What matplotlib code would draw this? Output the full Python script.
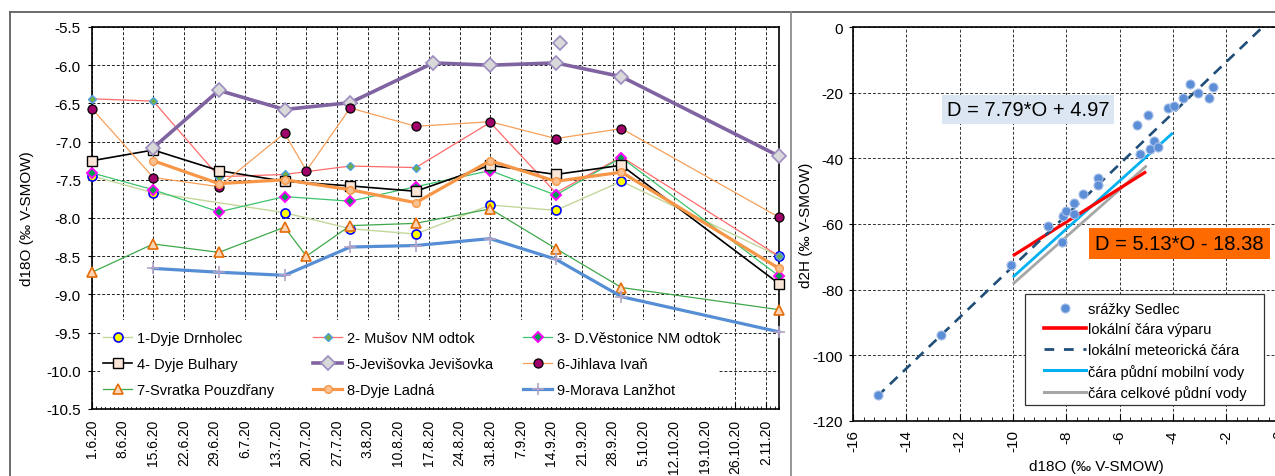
import numpy as np
import pandas as pd
import matplotlib
matplotlib.use('Agg')
import matplotlib.pyplot as plt
import matplotlib.dates as mdates
from matplotlib.lines import Line2D
from matplotlib.legend import Legend
from matplotlib.patches import Rectangle
from matplotlib.ticker import FixedLocator, FuncFormatter, MultipleLocator, FormatStrFormatter

plt.rcParams['font.family'] = ['Liberation Sans', 'DejaVu Sans']
plt.rcParams['axes.unicode_minus'] = False

# --- data: d18O v řekách (datum odběru) ---
dny = ['2020-06-01', '2020-06-15', '2020-06-30', '2020-07-15', '2020-07-20', '2020-07-30',
       '2020-08-14', '2020-08-18', '2020-08-31', '2020-09-15', '2020-09-30', '2020-11-05']
nan = np.nan
drnholec = [-7.45, -7.67, nan, -7.93, nan, -8.14, -8.21, nan, -7.83, -7.90, -7.52, -8.50]
musov = [-6.44, -6.47, -7.46, -7.43, nan, -7.32, -7.34, nan, -6.75, -7.67, -7.20, -8.50]
vestonice = [-7.41, -7.63, -7.92, -7.72, nan, -7.78, -7.59, nan, -7.38, -7.70, -7.21, -8.76]
bulhary = [-7.25, -7.11, -7.38, -7.52, nan, -7.58, -7.65, nan, -7.31, -7.43, -7.31, -8.86]
jevisovka = [nan, -7.08, -6.33, -6.58, nan, -6.49, nan, -5.97, -6.00, -5.97, -6.15, -7.19]
jihlava = [-6.57, -7.47, -7.59, -6.89, -7.38, -6.56, -6.80, nan, -6.74, -6.96, -6.83, -7.99]
svratka = [-8.71, -8.34, -8.45, -8.12, -8.50, -8.10, -8.07, nan, -7.88, -8.40, -8.91, -9.20]
ladna = [nan, -7.25, -7.55, -7.50, nan, -7.63, -7.80, nan, -7.25, -7.52, -7.40, -8.66]
morava = [nan, -8.66, -8.71, -8.75, nan, -8.38, -8.36, nan, -8.27, -8.54, -9.03, -9.49]
jevisovka_navic_den = ['2020-09-16']
jevisovka_navic = [-5.71]

# --- data: srážky Sedlec (d18O, d2H) ---
srazky_O = [-15.05, -12.71, -10.07, -8.67, -8.14, -8.13, -8.01, -7.71, -7.70, -7.38, -6.80, -6.80,
            -5.33, -5.23, -4.93, -4.86, -4.69, -4.57, -4.17, -3.96, -3.63, -3.36, -3.04, -2.64, -2.48]
srazky_H = [-112.3, -94.0, -72.5, -60.5, -65.5, -57.6, -56.1, -53.5, -57.1, -50.9, -46.0, -48.0,
            -29.9, -38.7, -26.8, -37.1, -34.8, -36.6, -24.7, -23.9, -21.7, -17.3, -19.9, -21.7, -18.2]

# přímky: (sklon, posun, od O, do O)
lmwl = (7.79, 4.97, -15.1, 0.0)
vypar = (5.13, -18.38, -10.0, -5.0)
mobilni = (7.33, -2.9, -10.0, -4.0)
celkova = (7.19, -6.4, -10.0, -4.98)

W, H = 1275, 477
fig = plt.figure(figsize=(W / 100, H / 100), dpi=100)


def fx(px):
    return px / W


def fy(py):
    return 1 - py / H


# ================= levý graf =================
ax = fig.add_axes([fx(92), fy(410), fx(779) - fx(92), fy(28) - fy(410)])
ax.set_axisbelow(True)
t = pd.to_datetime(dny)

serie = [
    ('1-Dyje Drnholec', drnholec, dict(color='#C4D79B', lw=1.0, marker='o', ms=6.5, mfc='#FFFF00', mec='#0000FF', mew=1.2)),
    ('2- Mušov NM odtok', musov, dict(color='#FF6B6B', lw=0.9, marker='D', ms=4.5, mfc='#70AD47', mec='#4F9FE0', mew=1.0)),
    ('3- D.Věstonice NM odtok', vestonice, dict(color='#3CC46E', lw=0.9, marker='D', ms=5, mfc='#00A050', mec='#FF00FF', mew=1.4)),
    ('4- Dyje Bulhary', bulhary, dict(color='black', lw=1.2, marker='s', ms=6.5, mfc='#FBE5D6', mec='black', mew=1.0)),
    ('5-Jevišovka Jevišovka', jevisovka, dict(color='#8064A2', lw=2.6, marker='D', ms=7.5, mfc='#D9D9D9', mec='#9C8CC0', mew=1.2)),
    ('6-Jihlava Ivaň', jihlava, dict(color='#F7A05A', lw=0.9, marker='o', ms=6.5, mfc='#A0006A', mec='black', mew=0.9)),
    ('7-Svratka Pouzdřany', svratka, dict(color='#3FA84A', lw=0.9, marker='^', ms=7, mfc='#FCD5B4', mec='#E36C09', mew=1.2)),
    ('8-Dyje Ladná', ladna, dict(color='#F79646', lw=2.3, marker='o', ms=5.5, mfc='#FAC090', mec='#F79646', mew=1.0)),
    ('9-Morava Lanžhot', morava, dict(color='#558ED5', lw=2.3, marker='+', ms=9, mec='#B3A2C7', mew=1.2)),
]

handles = []
for i, (name, vals, st) in enumerate(serie):
    v = np.array(vals, dtype=float)
    ok = ~np.isnan(v)
    ax.plot(t[ok], v[ok], zorder=3 + i, clip_on=False, **st)
    handles.append(Line2D([], [], **st))
    if i == 4:
        ax.plot(pd.to_datetime(jevisovka_navic_den), jevisovka_navic, linestyle='none',
                marker='D', ms=7.5, mfc='#D9D9D9', mec='#9C8CC0', mew=1.2, zorder=3 + i)

ax.set_xlim(pd.Timestamp('2020-06-01'), pd.Timestamp('2020-11-05'))
ax.set_ylim(-10.5, -5.5)
tyden = mdates.date2num(pd.date_range('2020-06-01', '2020-11-02', freq='7D'))
ax.xaxis.set_major_locator(FixedLocator(tyden))
ax.xaxis.set_minor_locator(FixedLocator(mdates.date2num(pd.date_range('2020-06-01', '2020-11-05', freq='D'))))
ax.xaxis.set_major_formatter(FuncFormatter(
    lambda x, p: '%d.%d.20' % (mdates.num2date(x).day, mdates.num2date(x).month)))
ax.yaxis.set_major_locator(MultipleLocator(0.5))
ax.yaxis.set_major_formatter(FormatStrFormatter('%.1f'))
ax.tick_params(axis='x', which='major', direction='in', length=5, width=0.8, labelrotation=90, labelsize=10, pad=7)
ax.tick_params(axis='x', which='minor', direction='in', length=2.5, width=0.6)
ax.tick_params(axis='y', direction='out', length=3, width=0.8, labelsize=11, pad=5)
ax.grid(True, which='major', color='#222222', ls=(0, (3, 2)), lw=0.7)
for s in ax.spines.values():
    s.set_linewidth(1.2)
    s.set_color('black')
ax.set_ylabel('d18O (‰ V-SMOW)', fontsize=11)
ax.yaxis.set_label_coords((34 - 92) / 687, 0.5)

# bílé pole pod legendou
ax.add_patch(Rectangle((fx(100), fy(408)), fx(718) - fx(100), fy(321) - fy(408),
                       transform=fig.transFigure, facecolor='white', edgecolor='none', zorder=2))
poradi = [[0, 3, 6], [1, 4, 7], [2, 5, 8]]
for col, x0 in zip(poradi, [103, 313, 523]):
    leg = Legend(ax, [handles[k] for k in col], [serie[k][0] for k in col],
                 loc='center left', bbox_to_anchor=(fx(x0), fy(365)), bbox_transform=fig.transFigure,
                 frameon=False, borderpad=0, borderaxespad=0, fontsize=10.5, numpoints=1,
                 handlelength=2.0, handletextpad=0.3, labelspacing=0.8)
    leg.set_zorder(20)
    ax.add_artist(leg)

# ================= pravý graf =================
ax2 = fig.add_axes([fx(853), fy(421.7), fx(1279.4) - fx(853), fy(28.3) - fy(421.7)])
ax2.set_axisbelow(True)
ax2.set_xlim(-16, 0)
ax2.set_ylim(-120, 0)

for (k, q, o1, o2), col, lw, z in [(celkova, '#A6A6A6', 2.0, 4), (mobilni, '#00B0F0', 2.0, 5),
                                   (vypar, '#FF0000', 2.3, 6)]:
    o = np.array([o1, o2])
    ax2.plot(o, k * o + q, color=col, lw=lw, zorder=z, solid_capstyle='butt')
k, q, o1, o2 = lmwl
o = np.array([o1, o2])
ax2.plot(o, k * o + q, color='#1F4E79', lw=1.9, dashes=(4, 2.8), zorder=7)
ax2.plot(srazky_O, srazky_H, linestyle='none', marker='o', ms=6.5, mfc='#5B8ED6', mec='#A8C0E8',
         mew=0.8, zorder=8)

ax2.xaxis.set_major_locator(MultipleLocator(2))
ax2.xaxis.set_minor_locator(MultipleLocator(0.4))
ax2.yaxis.set_major_locator(MultipleLocator(20))
ax2.tick_params(axis='x', which='major', direction='in', length=5, width=0.8, labelrotation=90, labelsize=11, pad=6)
ax2.tick_params(axis='x', which='minor', direction='in', length=3, width=0.6)
ax2.tick_params(axis='y', direction='out', length=3, width=0.8, labelsize=11, pad=4)
ax2.grid(True, which='major', color='#333333', ls=(0, (3, 2)), lw=0.7)
for s in ax2.spines.values():
    s.set_linewidth(1.2)
    s.set_color('black')
ax2.set_xlabel('d18O (‰ V-SMOW)', fontsize=11)
ax2.xaxis.set_label_coords(0.570, -0.097)
ax2.set_ylabel('d2H (‰ V-SMOW)', fontsize=11)
ax2.yaxis.set_label_coords((813 - 853) / 426.4, 0.5)

ax2.text(-9.44, -25.2, 'D = 7.79*O + 4.97', fontsize=14.5, ha='center', va='center', zorder=10,
         bbox=dict(boxstyle='square,pad=0.25', facecolor='#DCE6F2', edgecolor='none'))
ax2.text(-3.75, -65.9, 'D = 5.13*O - 18.38', fontsize=14.5, ha='center', va='center', zorder=10,
         bbox=dict(boxstyle='square,pad=0.3', facecolor='#FF6A00', edgecolor='none'))

ax2.add_patch(Rectangle((fx(1025), fy(406)), fx(1264) - fx(1025), fy(295) - fy(406),
                        transform=fig.transFigure, facecolor='white', edgecolor='#333333', lw=0.9, zorder=9))
h2 = [Line2D([], [], linestyle='none', marker='o', ms=6.5, mfc='#5B8ED6', mec='#A8C0E8', mew=0.8),
      Line2D([], [], color='#FF0000', lw=2.6),
      Line2D([], [], color='#1F4E79', lw=2.0, dashes=(3.5, 3.5)),
      Line2D([], [], color='#00B0F0', lw=2.2),
      Line2D([], [], color='#A6A6A6', lw=2.2)]
l2 = ['srážky Sedlec', 'lokální čára výparu', 'lokální meteorická čára',
      'čára půdní mobilní vody', 'čára celkové půdní vody']
leg2 = ax2.legend(h2, l2, loc='center left', bbox_to_anchor=(fx(1044), fy(352)), bbox_transform=fig.transFigure,
                  frameon=False, borderpad=0, borderaxespad=0, fontsize=10.5, numpoints=1,
                  handlelength=2.9, handletextpad=0.1, labelspacing=0.45)
leg2.set_zorder(20)

# rámečky oblastí grafů
for xs, ys, c in [([fx(9.5), 1.0], [fy(12.5), fy(12.5)], '#606060'),
                  ([fx(9.5), fx(9.5)], [fy(12.5), 0], '#606060'),
                  ([fx(791), fx(791)], [fy(12.5), 0], '#8C8C8C')]:
    fig.add_artist(Line2D(xs, ys, transform=fig.transFigure, color=c, lw=1.3))

fig.savefig('out.png', dpi=100)
